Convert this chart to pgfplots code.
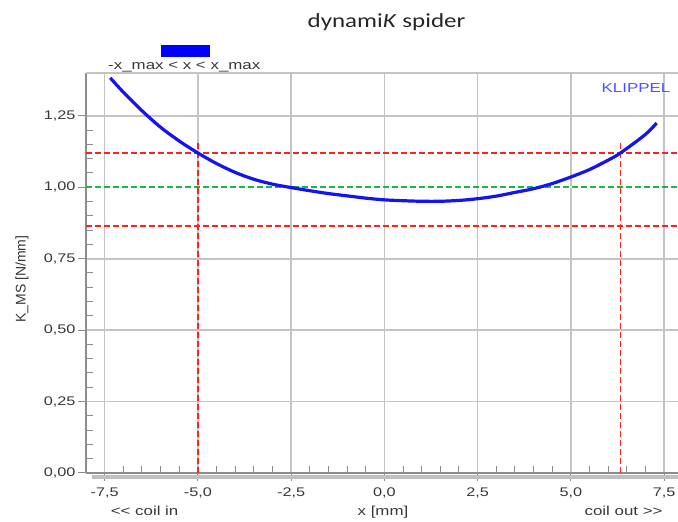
\documentclass[border=0pt]{standalone}
\usepackage{pgfplots}
\pgfplotsset{compat=1.18}
\usepackage{fontspec}
\setmainfont{Liberation Sans}[FakeStretch=1.3, Ligatures=TeXOff]
\newfontfamily\plainsans{Liberation Sans}
\newfontfamily\titlefont{Carlito}[FakeStretch=1.25]

\definecolor{txtgray}{HTML}{383838}
\definecolor{gridgray}{HTML}{C4C4C4}
\definecolor{axgray}{HTML}{8C8C8C}
\definecolor{curveblue}{HTML}{1414F0}
\definecolor{dashred}{HTML}{FF2020}
\definecolor{dashgreen}{HTML}{18B848}
\definecolor{klippel}{HTML}{5050FF}

\begin{document}
\begin{tikzpicture}
\begin{axis}[
    at={(0,0)}, anchor=south west,
    scale only axis, width=593pt, height=400pt,
    xmin=-8, xmax=7.9, ymin=0, ymax=1.4,
    axis lines=left,
    axis line style={-, draw=axgray, line width=1.5pt},
    clip=false,
    xtick={-7.5,-5,-2.5,0,2.5,5,7.5},
    ytick={0,0.25,0.5,0.75,1,1.25},
    minor x tick num=4, minor y tick num=4,
    grid=major,
    major grid style={draw=gridgray, line width=1.6pt},
    tick align=outside,
    major tick length=8pt, minor tick length=-7pt,
    tick style={draw=axgray, line width=1pt},
    /pgf/number format/assume math mode=true,
    ticklabel style={font=\fontsize{12.5}{14}\selectfont, text=txtgray},
    xticklabel style={yshift=-3pt, /pgf/number format/.cd, fixed, fixed zerofill, precision=1, use comma},
    yticklabel style={xshift=1pt, /pgf/number format/.cd, fixed, fixed zerofill, precision=2, use comma},
]
% shadow under the x axis
\draw[black!25, line width=4.5pt] ([xshift=6pt,yshift=-4pt]rel axis cs:0,0) -- ([yshift=-4pt]rel axis cs:1,0);
\draw[gridgray, line width=1.6pt] (rel axis cs:0,1) -- (rel axis cs:1,1);

\addplot[color=dashred, line width=1.5pt, dash pattern=on 6pt off 3pt] coordinates {(-8,1.12) (7.9,1.12)};
\addplot[color=dashred, line width=1.5pt, dash pattern=on 6pt off 3pt] coordinates {(-8,0.865) (7.9,0.865)};
\addplot[color=white, line width=1.8pt] coordinates {(-8,1.0) (7.9,1.0)};
\addplot[color=dashgreen, line width=1.6pt, dash pattern=on 6pt off 3pt] coordinates {(-8,1.0) (7.9,1.0)};
\addplot[color=dashred, line width=1.5pt, dash pattern=on 6pt off 3pt] coordinates {(-5,0) (-5,1.16)};
\addplot[color=dashred, line width=1.5pt, dash pattern=on 6pt off 3pt] coordinates {(6.33,0) (6.33,1.16)};

\addplot[color=curveblue, line width=3.2pt, smooth] coordinates {
    (-7.35,1.383) (-7,1.333) (-6.5,1.268) (-6,1.21) (-5.5,1.162) (-5,1.12)
    (-4.5,1.083) (-4,1.052) (-3.5,1.028) (-3,1.011) (-2.5,0.999) (-2,0.988)
    (-1.5,0.978) (-1,0.970) (-0.5,0.962) (0,0.956) (0.5,0.953) (1,0.951)
    (1.5,0.951) (2,0.954) (2.5,0.960) (3,0.969) (3.5,0.982) (4,0.995)
    (4.5,1.013) (5,1.036) (5.5,1.062) (6,1.095) (6.33,1.12) (7,1.185) (7.3,1.225)
};
\end{axis}

% title
\node[anchor=base, font=\titlefont\fontsize{20}{24}\selectfont, text=black!85] at (300.5pt,445pt) {dynami\textit{K} spider};
% legend
\fill[blue] (74.7pt,416.3pt) rectangle (124pt,428pt);
\node[anchor=base west, inner sep=0pt, font=\fontsize{13}{15}\selectfont, text=txtgray] at (22pt,403pt) {-x\_max < x < x\_max};
% brand
\node[anchor=base, inner sep=0pt, font=\fontsize{13}{15}\selectfont, text=klippel] at (550pt,380pt) {KLIPPEL};
% axis labels
\node[rotate=90, inner sep=0pt, font=\plainsans\fontsize{14}{16}\selectfont, text=txtgray] at (-64pt,194pt) {K\_MS [N/mm]};
\node[anchor=base, inner sep=0pt, font=\fontsize{13}{15}\selectfont, text=txtgray] at (58.6pt,-43pt) {<\kern0pt< coil in};
\node[anchor=base, inner sep=0pt, font=\fontsize{13}{15}\selectfont, text=txtgray] at (297pt,-43pt) {x [mm]};
\node[anchor=base, inner sep=0pt, font=\fontsize{13}{15}\selectfont, text=txtgray] at (537.6pt,-43pt) {coil out >\kern0pt>};

\pgfresetboundingbox
\useasboundingbox (-86pt,-49pt) rectangle (592pt,473pt);
\end{tikzpicture}
\end{document}
